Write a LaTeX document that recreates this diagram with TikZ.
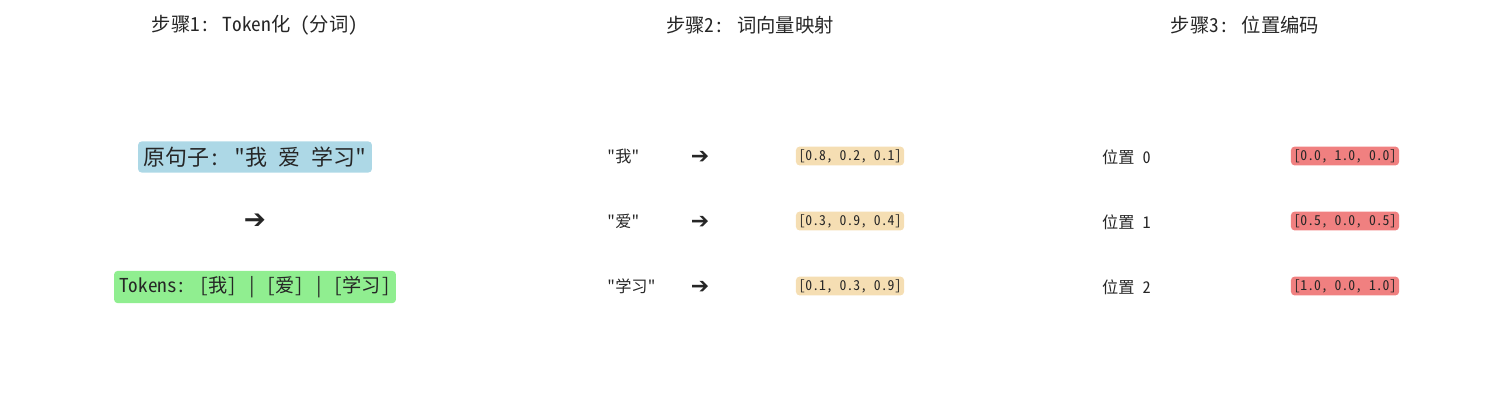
\documentclass[tikz,border=0pt]{standalone}
\usepackage{fontspec}
\setmainfont{Noto Sans CJK SC}[Ligatures=TeXOff, RawFeature=+hwid]
\newfontfamily\arrowfont{DejaVu Sans}
\definecolor{SentBlue}{RGB}{173, 216, 230}
\definecolor{TokGreen}{RGB}{144, 238, 144}
\definecolor{VecWheat}{RGB}{245, 222, 179}
\definecolor{PosCoral}{RGB}{240, 128, 128}
\usetikzlibrary{positioning}

\begin{document}
\begin{tikzpicture}[x=0.02cm, y=-0.02cm, node distance=2cm, text=black!85]
        \tikzstyle{title} = [font=\fontsize{11}{12}\selectfont]
        \tikzstyle{tag} = [rectangle, rounded corners=2pt, inner sep=3pt]
        \tikzstyle{vec} = [tag, inner sep=1.5pt, font=\fontsize{7.8}{9}\selectfont]
        \tikzstyle{word} = [anchor=west, font=\fontsize{9.2}{10}\selectfont]
        \tikzstyle{arr} = [font=\arrowfont\bfseries\fontsize{12.5}{12}\selectfont]

        \useasboundingbox (0,0) rectangle (1500,400);

        % titles
        \node [title] (t1) at (255,25) {步骤1: Token化 (分词)};
        \node [title] (t2) at (750,25) {步骤2: 词向量映射};
        \node [title] (t3) at (1245,25) {步骤3: 位置编码};

        % step 1
        \node [tag, fill=SentBlue, font=\fontsize{12.5}{14}\selectfont] (sent) at (255,157) {原句子: "我 爱 学习"};
        \node [arr, font=\arrowfont\bfseries\fontsize{15}{15}\selectfont] (a0) at (255,221) {➔};
        \node [tag, fill=TokGreen, font=\fontsize{10.9}{12}\selectfont] (toks) at (255,287) {Tokens: [我] | [爱] | [学习]};

        % step 2
        \node [word] (w0) at (601,156) {"我"};
        \node [word] (w1) at (601,221) {"爱"};
        \node [word] (w2) at (601,286) {"学习"};
        \node [arr] (a1) at (700,157) {➔};
        \node [arr] (a2) at (700,222) {➔};
        \node [arr] (a3) at (700,287) {➔};
        \node [vec, fill=VecWheat] (v0) at (850,156) {[0.8, 0.2, 0.1]};
        \node [vec, fill=VecWheat] (v1) at (850,221) {[0.3, 0.9, 0.4]};
        \node [vec, fill=VecWheat] (v2) at (850,286) {[0.1, 0.3, 0.9]};

        % step 3
        \node [word] (p0) at (1096,157) {位置 0};
        \node [word] (p1) at (1096,222) {位置 1};
        \node [word] (p2) at (1096,287) {位置 2};
        \node [vec, fill=PosCoral] (e0) at (1345,156) {[0.0, 1.0, 0.0]};
        \node [vec, fill=PosCoral] (e1) at (1345,221) {[0.5, 0.0, 0.5]};
        \node [vec, fill=PosCoral] (e2) at (1345,286) {[1.0, 0.0, 1.0]};
    \end{tikzpicture}
\end{document}
